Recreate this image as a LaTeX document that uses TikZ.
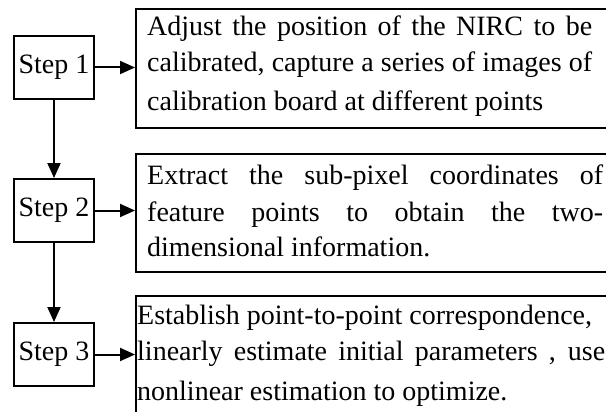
\documentclass[tikz,border=0pt]{standalone}
\usepackage{fontspec}
\setmainfont{Liberation Serif}
\usetikzlibrary{arrows.meta}

\begin{document}
\begin{tikzpicture}[x=1pt,y=-1pt,
    stepbox/.style={draw,line width=2pt,minimum width=80pt,minimum height=63pt,inner sep=0pt,font=\fontsize{28pt}{36pt}\selectfont},
    infobox/.style={draw,line width=2pt,anchor=north west,minimum width=520pt,inner sep=0pt},
    infotext/.style={anchor=base west,inner sep=0pt,align=justify,font=\fontsize{28pt}{36pt}\selectfont},
    flow/.style={line width=2pt,-{Triangle[length=15pt,width=13pt]}}]
    \useasboundingbox (0,0) rectangle (606,412);
    \clip (0,0) rectangle (606,412);
    % steps on the left
    \node[stepbox] (s1) at (54,67.5) {Step 1};
    \node[stepbox] (s2) at (54,210.5) {Step 2};
    \node[stepbox] (s3) at (54,354.5) {Step 3};
    % boxes on the right, cut off by the page edge
    \node[infobox,minimum height=119pt] (b1) at (135,8) {};
    \node[infobox,minimum height=118pt] (b2) at (135,153) {};
    \node[infobox,minimum height=140pt] (b3) at (135,295) {};
    \node[infotext,text width=445pt] (t1) at (147,36)
    {Adjust the position of the NIRC to be\linebreak calibrated, capture a series of images of\vspace{3pt}\linebreak calibration board at different points};
    \node[infotext,text width=456pt] (t2) at (147,185)
    {Extract the sub-pixel coordinates of\linebreak feature points to obtain the two-\linebreak dimensional information.};
    \node[infotext,text width=468pt] (t3) at (137,324)
    {Establish point-to-point correspondence,\\ linearly estimate initial parameters , use\vspace{4pt}\linebreak nonlinear estimation to optimize.};
    \draw[flow] (s1.east) -- (s1.east -| b1.west);
    \draw[flow] (s2.east) -- (s2.east -| b2.west);
    \draw[flow] (s3.east) -- (s3.east -| b3.west);
    \draw[flow] (s1.south) -- (s2.north);
    \draw[flow] (s2.south) -- (s3.north);
\end{tikzpicture}
\end{document}
